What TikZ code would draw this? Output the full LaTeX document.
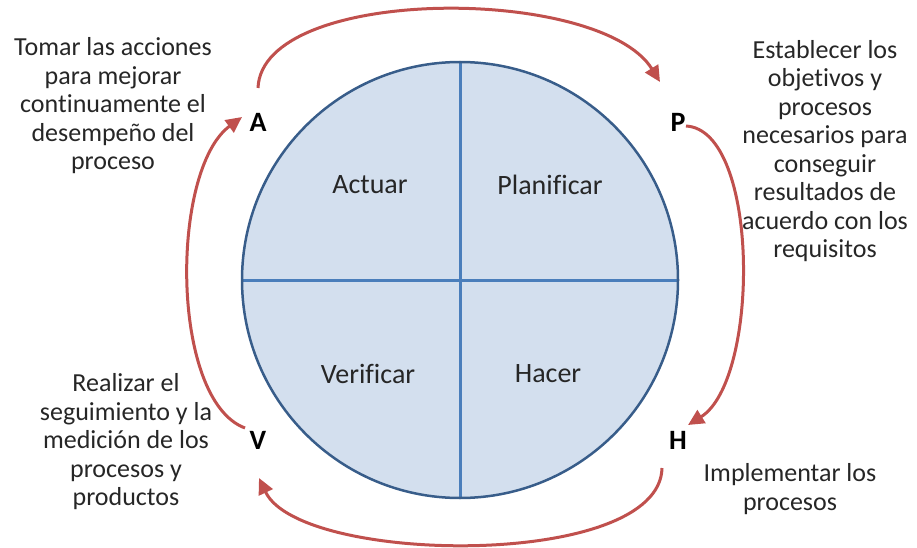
\documentclass[tikz,border=0pt]{standalone}
\usepackage{fontspec}
\setmainfont{Carlito}[Ligatures=NoCommon]
\usetikzlibrary{arrows.meta}
\definecolor{fillblue}{HTML}{D3DFEE}
\definecolor{edgeblue}{HTML}{385D8A}
\definecolor{crossblue}{HTML}{4A7EBB}
\definecolor{arrowred}{HTML}{C0504D}
\definecolor{txt}{HTML}{262626}
\begin{document}
\begin{tikzpicture}[x=1pt,y=-1pt,
  desc/.style={align=center, font=\fontsize{26}{28.5}\selectfont, text=txt, inner sep=0pt},
  quad/.style={font=\fontsize{28}{30}\selectfont, text=txt, inner sep=0pt},
  letter/.style={font=\fontsize{28}{30}\selectfont\bfseries, text=black, inner sep=0pt},
  cyc/.style={draw=arrowred, line width=3pt, -{Triangle[length=16pt,width=15pt]}},
  crossline/.style={draw=crossblue, line width=3pt}]
\useasboundingbox (0,0) rectangle (917,548);
% circle
\node[circle, fill=fillblue, minimum size=436pt, inner sep=0pt, outer sep=0pt] (c) at (460,280) {};
\draw[crossline] (c.north) -- (c.south);
\draw[crossline] (c.west) -- (c.east);
\draw[edgeblue, line width=2.5pt] (c.center) circle (218);
% quadrant labels
\node[quad] (qa) at (370,185) {Actuar};
\node[quad] (qp) at (550,185) {Planificar};
\node[quad] (qv) at (368,374) {Verificar};
\node[quad] (qh) at (548,374) {Hacer};
% letters
\node[letter] (A) at (258,122) {A};
\node[letter] (P) at (678,122) {P};
\node[letter] (V) at (258,440) {V};
\node[letter] (H) at (678,440) {H};
% descriptions
\node[desc] (tA) at (113,106) {Tomar las acciones\\para mejorar\\continuamente el\\desempeño del\\proceso};
\node[desc] (tP) at (825,151) {Establecer los\\objetivos y\\procesos\\necesarios para\\conseguir\\resultados de\\acuerdo con los\\requisitos};
\node[desc] (tV) at (126,442) {Realizar el\\seguimiento y la\\medición de los\\procesos y\\productos};
\node[desc] (tH) at (790,489) {Implementar los\\procesos};
% arrow end points
\coordinate (a1) at (258,88);
\coordinate (p0) at (660,82);
\coordinate (p1) at (686,126);
\coordinate (h0) at (688,425);
\coordinate (h1) at (662,468);
\coordinate (v0) at (259,478);
\coordinate (v1) at (245,428);
\coordinate (a0) at (242,117);
% cycle arrows
\draw[cyc] (a1) .. controls (262,-15) and (600,-15) .. (p0);
\draw[cyc] (p1) .. controls (760,130) and (760,380) .. (h0);
\draw[cyc] (h1) .. controls (660,570) and (300,565) .. (v0);
\draw[cyc] (v1) .. controls (170,400) and (170,170) .. (a0);
\end{tikzpicture}
\end{document}
